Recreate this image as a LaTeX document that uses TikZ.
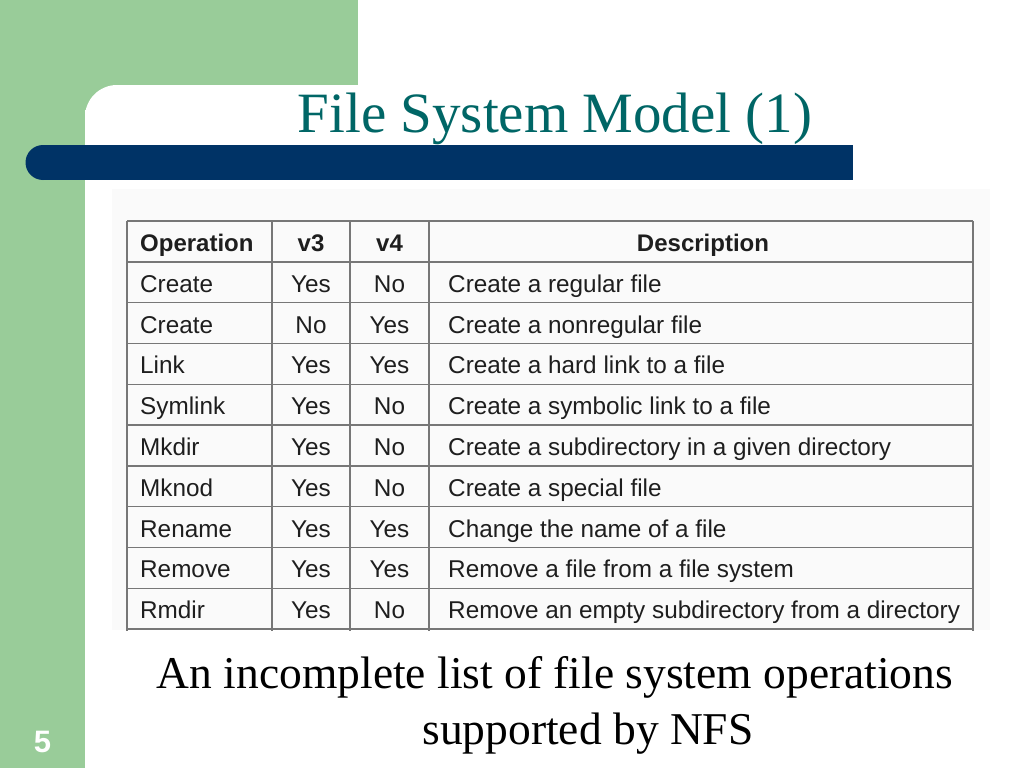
\documentclass[tikz,border=0pt]{standalone}
\usepackage{fontspec}
\setmainfont{Liberation Serif}
\newfontfamily\tabfont{Liberation Sans}
\definecolor{slidegreen}{HTML}{99CC99}
\definecolor{barblue}{HTML}{003366}
\definecolor{titleteal}{HTML}{006666}
\definecolor{tablebg}{HTML}{FAFAFA}
\definecolor{gridgray}{HTML}{777777}
\definecolor{celltext}{HTML}{1E1E1E}
\tikzset{
  titletext/.style={font=\fontsize{57}{57}\selectfont, text=titleteal, inner sep=0pt, anchor=base},
  captext/.style={font=\fontsize{45.5}{45.5}\selectfont, text=black, inner sep=0pt, anchor=base},
  pagenum/.style={font=\tabfont\bfseries\fontsize{31}{31}\selectfont, text=white, inner sep=0pt, anchor=base},
  cell/.style={font=\tabfont\fontsize{24.3}{24.3}\selectfont, text=celltext, inner sep=0pt, anchor=base west},
  ccell/.style={font=\tabfont\fontsize{24.3}{24.3}\selectfont, text=celltext, inner sep=0pt, anchor=base},
  hcell/.style={font=\tabfont\bfseries\fontsize{24}{24}\selectfont, text=celltext, inner sep=0pt},
  gridline/.style={draw=gridgray, line width=1.4pt}
}
\begin{document}
\begin{tikzpicture}[x=1pt,y=-1pt]
\useasboundingbox (0,0) rectangle (1024,768);
\clip (0,0) rectangle (1024,768);
% background
\fill[white] (0,0) rectangle (1024,768);
\fill[slidegreen] (0,0) rectangle (358,110);
\fill[slidegreen] (0,0) rectangle (85,768);
\fill[white, rounded corners=32pt] (85,820) -- (85,85) -- (1100,85) -- (1100,820) -- cycle;
% blue bar
\fill[barblue] (43,145) rectangle (853,180);
\fill[barblue] (43,162.5) circle (17.5pt);
% title
\node[titletext] (title) at (555,132) {File System Model (1)};
% table background
\fill[tablebg] (112,189) rectangle (990,630);
% grid
\foreach \r in {0,...,10} {
  \draw[gridline] (127,{221+40.8*\r}) -- (973,{221+40.8*\r});
}
\foreach \cx in {127,272,350,429,973} {
  \draw[gridline] (\cx,221) -- (\cx,631);
}
% header
\node[hcell, anchor=base west] (hop) at (140,251.4) {Operation};
\node[hcell, anchor=base] (hv3) at (311,251.4) {v3};
\node[hcell, anchor=base] (hv4) at (389.5,251.4) {v4};
\node[hcell, anchor=base] (hdesc) at (703,251.4) {Description};
% rows
\foreach \op/\a/\b/\d [count=\i] in {
  Create/Yes/No/Create a regular file,
  Create/No/Yes/Create a nonregular file,
  Link/Yes/Yes/Create a hard link to a file,
  Symlink/Yes/No/Create a symbolic link to a file,
  Mkdir/Yes/No/Create a subdirectory in a given directory,
  Mknod/Yes/No/Create a special file,
  Rename/Yes/Yes/Change the name of a file,
  Remove/Yes/Yes/Remove a file from a file system,
  Rmdir/Yes/No/Remove an empty subdirectory from a directory} {
  \pgfmathsetmacro{\by}{221+40.8*\i+20.4+10}
  \node[cell] (op\i) at (140,\by) {\op};
  \node[ccell] (va\i) at (311,\by) {\a};
  \node[ccell] (vb\i) at (389.5,\by) {\b};
  \node[cell] (desc\i) at (448,\by) {\d};
}
% caption
\node[captext] (cap1) at (555,688) {An incomplete list of file system operations};
\node[captext] (cap2) at (588,744) {supported by NFS};
% page number
\node[pagenum] (pnum) at (42.5,752) {5};
\end{tikzpicture}
\end{document}
